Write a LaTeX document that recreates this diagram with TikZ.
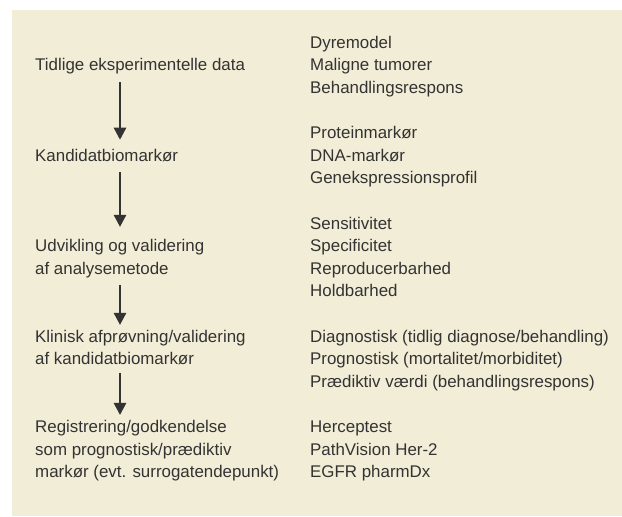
\documentclass[tikz,border=0pt]{standalone}
\usepackage{fontspec}
\setmainfont{Liberation Sans}
\usetikzlibrary{arrows.meta}
\definecolor{bg}{HTML}{F2EDD6}
\definecolor{ink}{HTML}{333333}
\begin{document}
\begin{tikzpicture}[x=1pt,y=1pt,
  txt/.style={anchor=base west, inner sep=0pt, align=left, text=ink,
    font=\fontsize{16.9}{22.63}\selectfont},
  arr/.style={draw=ink, line width=1.3pt, -{Triangle[width=12.5pt,length=12pt]}}]
\useasboundingbox (0,0) rectangle (622,517);
\fill[bg] (12,1) rectangle (622,507);
\coordinate (ax) at (120,0);
% left column (anchor = baseline of the last line)
\node[txt] (t1) at (35,446.4) {Tidlige eksperimentelle data};
\node[txt] (t2) at (35,355.9) {Kandidatbiomarkør};
\node[txt] (t3) at (35,242.7) {Udvikling og validering\\af analysemetode};
\node[txt] (t4) at (35,152.2) {Klinisk afprøvning/validering\\af kandidatbiomarkør};
\node[txt] (t5) at (35,39.0) {Registrering/godkendelse\\som prognostisk/prædiktiv\\markør (evt. surrogatendepunkt)};
% right column
\node[txt] (r1) at (310,423.7) {Dyremodel\\Maligne tumorer\\Behandlingsrespons};
\node[txt] (r2) at (310,333.2) {Proteinmarkør\\DNA-markør\\Genekspressionsprofil};
\node[txt] (r3) at (310,220.1) {Sensitivitet\\Specificitet\\Reproducerbarhed\\Holdbarhed};
\node[txt] (r4) at (310,129.55) {Diagnostisk (tidlig diagnose/behandling)\\Prognostisk (mortalitet/morbiditet)\\Prædiktiv værdi (behandlingsrespons)};
\node[txt] (r5) at (310,39.0) {Herceptest\\PathVision Her-2\\EGFR pharmDx};
% arrows
\draw[arr] ([yshift=-8pt]t1.south -| ax) -- ([yshift=9pt]t2.north -| ax);
\draw[arr] ([yshift=-10.4pt]t2.south -| ax) -- ([yshift=12.4pt]t3.north -| ax);
\draw[arr] ([yshift=-7.1pt]t3.south -| ax) -- ([yshift=4.9pt]t4.north -| ax);
\draw[arr] ([yshift=-7.9pt]t4.south -| ax) -- ([yshift=5.4pt]t5.north -| ax);
\end{tikzpicture}
\end{document}
